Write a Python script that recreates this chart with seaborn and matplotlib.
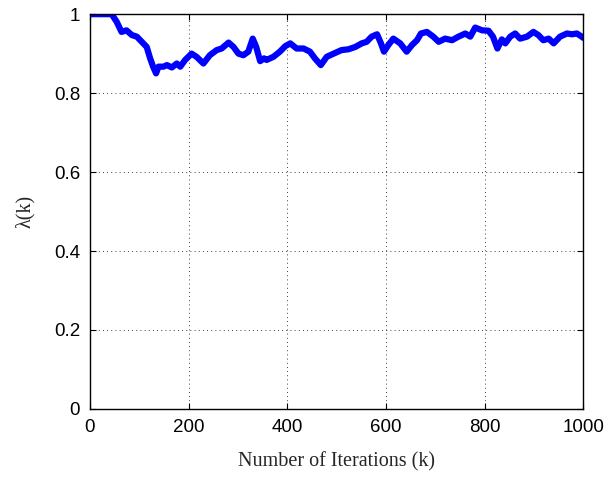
import numpy as np
import pandas as pd
import matplotlib
matplotlib.use("Agg")
import matplotlib.pyplot as plt
import seaborn as sns

iterations = [0, 44, 54, 64, 74, 85, 95, 105, 115, 122, 128, 134, 139, 149, 156, 166, 176, 183, 193,
              206, 216, 230, 243, 257, 267, 281, 291, 301, 311, 321, 330, 337, 345, 353, 358, 372,
              385, 396, 406, 419, 433, 446, 456, 468, 480, 494, 510, 524, 538, 551, 561, 571, 582,
              590, 596, 605, 615, 629, 642, 653, 663, 671, 683, 696, 707, 720, 734, 747, 761, 771,
              781, 795, 808, 817, 826, 835, 842, 852, 862, 872, 886, 899, 909, 919, 930, 940, 953,
              967, 977, 987, 997, 1000]
lam = [1.0, 1.0, 0.981, 0.955, 0.959, 0.947, 0.943, 0.930, 0.917, 0.888, 0.867, 0.850, 0.867, 0.867, 0.871, 0.865, 0.875, 0.867, 0.884,
       0.900, 0.892, 0.875, 0.896, 0.909, 0.913, 0.928, 0.917, 0.900, 0.896, 0.905, 0.938, 0.917, 0.881, 0.888, 0.884, 0.892,
       0.905, 0.919, 0.926, 0.913, 0.913, 0.905, 0.888, 0.871, 0.892, 0.900, 0.909, 0.911, 0.917, 0.926, 0.930, 0.943, 0.949,
       0.926, 0.905, 0.922, 0.938, 0.926, 0.905, 0.922, 0.934, 0.951, 0.955, 0.943, 0.930, 0.938, 0.934, 0.943, 0.951, 0.943,
       0.966, 0.959, 0.958, 0.943, 0.913, 0.936, 0.926, 0.943, 0.951, 0.938, 0.943, 0.955, 0.947, 0.934, 0.938, 0.926, 0.943,
       0.951, 0.949, 0.951, 0.943, 0.940]

df = pd.DataFrame({"k": iterations, "lam": lam})

sns.set_theme(style="white")
plt.rcParams["font.family"] = ["Liberation Sans", "DejaVu Sans"]

fig = plt.figure(figsize=(6.12, 4.88), dpi=100)
ax = fig.add_axes([0.147, 0.162, 0.806, 0.809])
sns.lineplot(data=df, x="k", y="lam", ax=ax, color="#0000ff", linewidth=4.5, estimator=None)

ax.set_xlim(0, 1000)
ax.set_ylim(0, 1)
ax.set_xticks([0, 200, 400, 600, 800, 1000])
ax.set_yticks([0, 0.2, 0.4, 0.6, 0.8, 1])
ax.set_xticklabels(["0", "200", "400", "600", "800", "1000"])
ax.set_yticklabels(["0", "0.2", "0.4", "0.6", "0.8", "1"])
ax.grid(True, color="black", linestyle=(0, (1, 4)), linewidth=0.6)
ax.tick_params(direction="in", length=4, width=0.8, colors="black", labelsize=13.5, top=True, right=True,
               bottom=True, left=True, pad=7)
for s in ax.spines.values():
    s.set_color("black")
    s.set_linewidth(1.0)
    s.set_visible(True)
ax.set_xlabel("Number of Iterations (k)", fontsize=14.5, family="Liberation Serif", labelpad=12)
ax.set_ylabel("λ(k)", fontsize=14.5, family="Liberation Serif", labelpad=14)

fig.savefig("out.png", dpi=100, facecolor="white")
